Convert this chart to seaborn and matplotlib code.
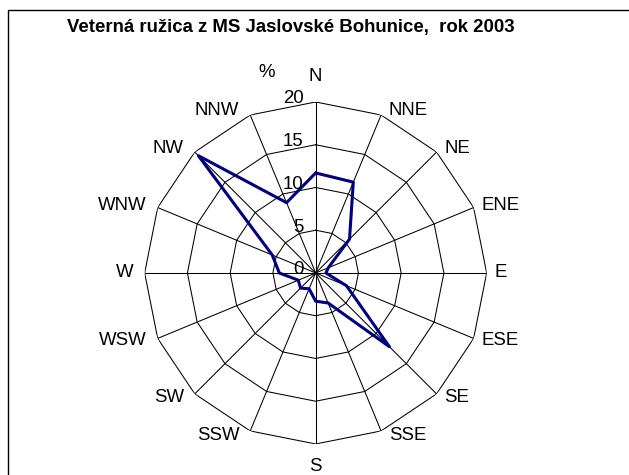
import numpy as np
import pandas as pd
import matplotlib
matplotlib.use("Agg")
import matplotlib.pyplot as plt
from matplotlib.patches import Rectangle
import seaborn as sns

# ── Data: wind rose, MS Jaslovské Bohunice 2003 (% of hours per direction) ────
directions = ["N", "NNE", "NE", "ENE", "E", "ESE", "SE", "SSE",
              "S", "SSW", "SW", "WSW", "W", "WNW", "NW", "NNW"]
frequency = [11.7, 11.5, 5.6, 1.6, 1.2, 3.9, 12.2, 3.8,
             3.3, 2.0, 2.5, 2.2, 4.25, 5.5, 19.4, 8.9]
ring_values = [0, 5, 10, 15, 20]
ring_labels = ["0", "5", "10", "15", "20"]
title = "Veterná ružica z MS Jaslovské Bohunice,  rok 2003"

sns.set_style("white")
plt.rcParams["font.family"] = ["Liberation Sans", "DejaVu Sans"]
plt.rcParams["text.color"] = "black"

n = len(directions)
angles = np.arange(n) * 2 * np.pi / n
rmax = ring_values[-1]

df = pd.DataFrame({"angle": np.append(angles, 2 * np.pi),
                   "freq": frequency + frequency[:1]})

fig = plt.figure(figsize=(6.29, 4.75), dpi=100)
ax = fig.add_axes([0.230, 0.0653, 0.5437, 0.72], projection="polar")
ax.set_theta_zero_location("N")
ax.set_theta_direction(-1)
ax.set_ylim(0, rmax)
ax.grid(False)
ax.set_xticks([])
ax.set_yticks([])
ax.spines["polar"].set_visible(False)

# polygon grid like the Excel radar chart
ring_angles = np.append(angles, 2 * np.pi)
for rv in ring_values[1:]:
    ax.plot(ring_angles, [rv] * len(ring_angles), color="black", lw=0.75, zorder=1)
for a in angles:
    ax.plot([a, a], [0, rmax], color="black", lw=0.75, zorder=1)

# data line
sns.lineplot(data=df, x="angle", y="freq", sort=False, ax=ax,
             color="#000080", linewidth=2.2, zorder=3)
ax.set_xlabel("")
ax.set_ylabel("")

# ring value labels along the N spoke
for rv, lab in zip(ring_values, ring_labels):
    ax.annotate(lab, xy=(0, rv), xytext=(-12, 3), textcoords="offset pixels",
                ha="right", va="center", fontsize=13.4, zorder=4)

# direction labels just outside the outer ring
for a, d in zip(angles, directions):
    s, c = np.sin(a), np.cos(a)
    if abs(s) < 1e-9:
        ha, off = "center", (0, 25 if c > 0 else -23)
    elif s > 0:
        ha, off = "left", (7.5, 4.5 * c)
    else:
        ha, off = "right", (-11, 4.5 * c)
    ax.annotate(d, xy=(a, rmax), xytext=off, textcoords="offset pixels",
                ha=ha, va="center", fontsize=13.4)

ax.text(0.358, 1.085, "%", transform=ax.transAxes, ha="center", va="center",
        fontsize=13.4)

fig.text(291 / 629, 1 - 32 / 475, title, ha="center", va="baseline",
         fontsize=13.4, fontweight="bold")

# chart-area frame (right and bottom edges lie outside the picture)
fig.patches.append(Rectangle((8 / 629, -0.1), 1.5, 1 - 10 / 475 + 0.1,
                             transform=fig.transFigure, fill=False,
                             edgecolor="black", linewidth=1.0))

fig.savefig("out.png", dpi=100, facecolor="white")
